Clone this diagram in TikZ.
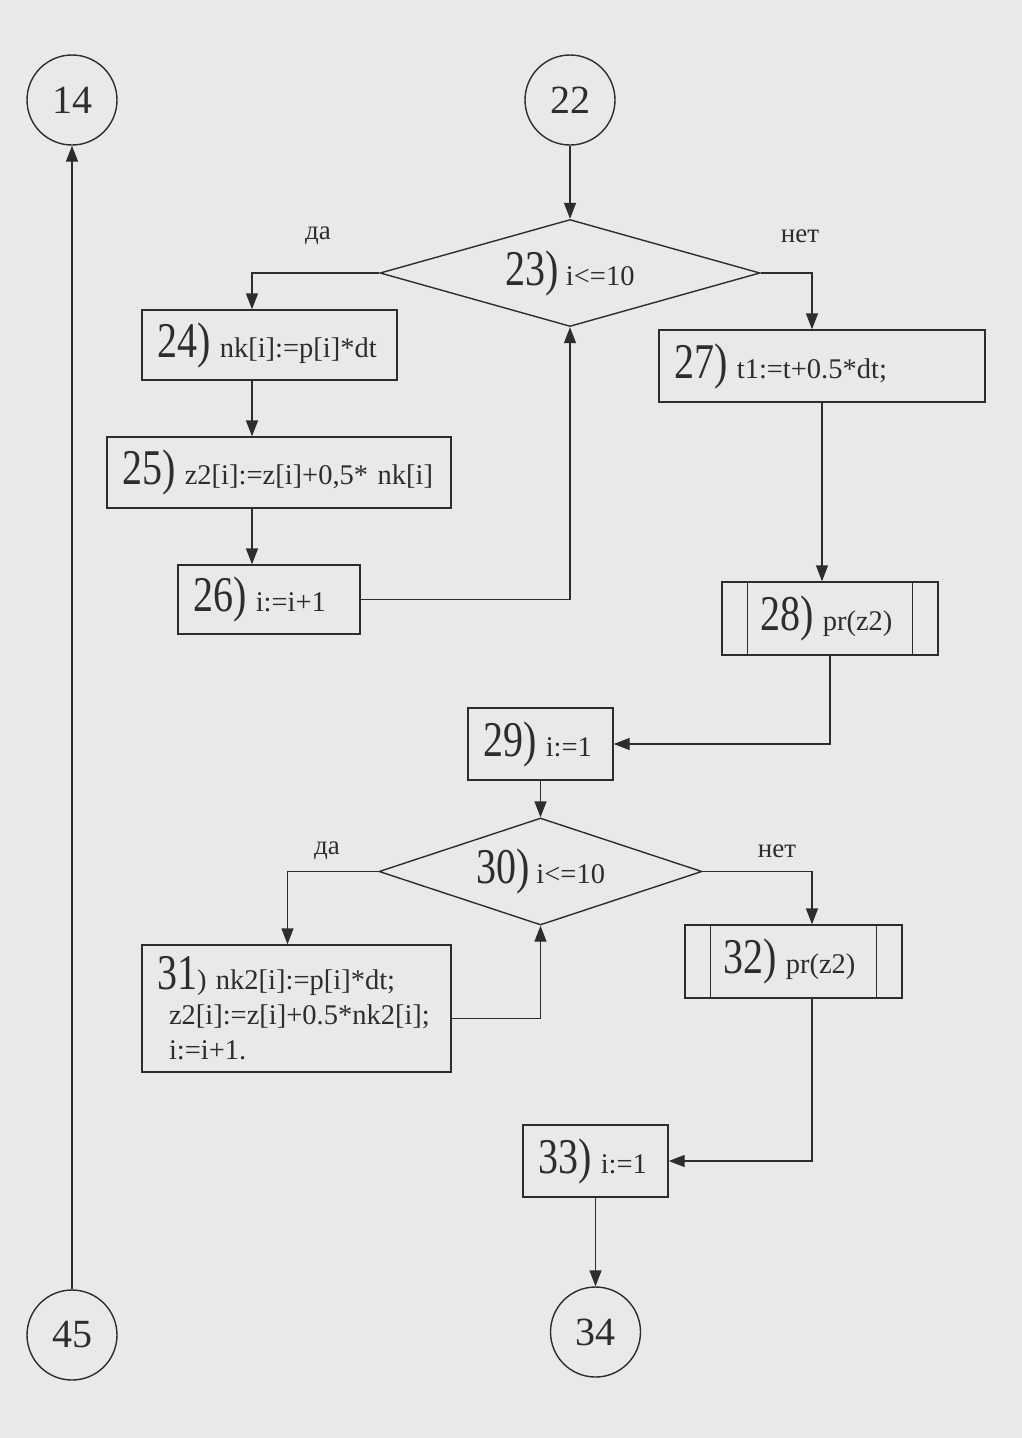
\documentclass[tikz,border=0pt]{standalone}
\usepackage{fontspec}
\setmainfont{Liberation Serif}
\usepackage{graphicx}
\usetikzlibrary{arrows.meta, shapes.geometric, calc}

\definecolor{paper}{RGB}{233,233,233}
\definecolor{ink}{RGB}{45,45,45}

% block number, tall and narrow
\newcommand{\blkno}[1]{\scalebox{0.8}[1]{\fontsize{50}{50}\selectfont #1}}

\begin{document}
\begin{tikzpicture}[x=1pt, y=-1pt, >={Triangle[length=16pt,width=12pt]},
  every node/.style={font=\fontsize{28.5}{35}\selectfont, text=ink},
  blk/.style={draw=ink, line width=1.4pt, rectangle, inner xsep=15pt, inner ysep=0pt, align=left},
  cond/.style={draw=ink, line width=1.4pt, diamond, aspect=3.3, inner sep=0pt},
  conn/.style={draw=ink, line width=1.4pt, circle, inner sep=0pt, minimum size=90pt, font=\fontsize{40}{40}\selectfont},
  lbl/.style={font=\fontsize{27}{27}\selectfont},
  link/.style={->, draw=ink, line width=1.4pt}]

  % page
  \fill[paper] (0,0) rectangle (1022,1438);
  \useasboundingbox (0,0) rectangle (1022,1438);

  % connectors (off-page)
  \node[conn] (c14) at (72,100) {14};
  \node[conn] (c22) at (570,100) {22};
  \node[conn] (c45) at (72,1335) {45};
  \node[conn] (c34) at (595.5,1332) {34};

  % first loop
  \node[cond, minimum width=380pt, minimum height=107pt] (d23) at (570,273) {\blkno{23)} i<=10};
  \node[blk, minimum height=70pt, text width=225pt] (b24) at (269.5,345) {\blkno{24)} nk[i]:=p[i]*dt};
  \node[blk, minimum height=71pt, text width=314pt] (b25) at (279,472.5) {\blkno{25)} z2[i]:=z[i]+0,5* nk[i]};
  \node[blk, minimum height=69pt, text width=152pt] (b26) at (269,599.5) {\blkno{26)} i:=i+1};

  % right branch
  \node[blk, minimum height=72pt, text width=296pt] (b27) at (822,366) {\blkno{27)} t1:=t+0.5*dt;};
  \node[blk, inner xsep=38pt, minimum height=73pt, text width=140pt] (b28) at (830,618.5) {\blkno{28)} pr(z2)};

  % second loop
  \node[blk, minimum height=72pt, text width=115pt] (b29) at (540.5,744) {\blkno{29)} i:=1};
  \node[cond, minimum width=323pt, minimum height=107pt] (d30) at (540.5,871.5) {\blkno{30)} i<=10};
  \node[blk, minimum height=127pt, text width=279pt] (b31) at (296.5,1008.5)
    {\blkno{31}) nk2[i]:=p[i]*dt;\\ \hspace*{12pt}z2[i]:=z[i]+0.5*nk2[i];\\ \hspace*{12pt}i:=i+1.};
  \node[blk, inner xsep=38pt, minimum height=73pt, text width=141pt] (b32) at (793.5,961.5) {\blkno{32)} pr(z2)};
  \node[blk, minimum height=72pt, text width=115pt] (b33) at (595.5,1161) {\blkno{33)} i:=1};

  % side bars of the subroutine blocks
  \foreach \n in {b28,b32} {
    \draw[ink, line width=1.2pt] ([xshift=26pt]\n.north west) -- ([xshift=26pt]\n.south west);
    \draw[ink, line width=1.2pt] ([xshift=-26pt]\n.north east) -- ([xshift=-26pt]\n.south east);
  }

  % branch labels
  \node[lbl] (yes23) at (318,236) {да};
  \node[lbl] (no23) at (800,236) {нет};
  \node[lbl] (yes30) at (327,851) {да};
  \node[lbl] (no30) at (777,851) {нет};

  % arrows
  \coordinate (colL) at (252,0);
  \coordinate (colR) at (812,0);
  \draw[link] (c45) -- (c14);
  \draw[link] (c22) -- (d23);
  \draw[link] (d23.west) -| (colL |- b24.north);
  \draw[link] (colL |- b24.south) -- (colL |- b25.north);
  \draw[link] (colL |- b25.south) -- (colL |- b26.north);
  \draw[link] (b26.east) -| (d23.south);
  \draw[link] (d23.east) -| (colR |- b27.north);
  \draw[link] (b27.south) -- (b27.south |- b28.north);
  \draw[link] (b28.south) |- (b29.east);
  \draw[link] (b29) -- (d30);
  \draw[link] (d30.west) -| ([xshift=-9pt]b31.north);
  \draw[link] ([yshift=-10pt]b31.east) -| (d30.south);
  \draw[link] (d30.east) -| (colR |- b32.north);
  \draw[link] (colR |- b32.south) |- (b33.east);
  \draw[link] (b33) -- (c34);

\end{tikzpicture}
\end{document}
